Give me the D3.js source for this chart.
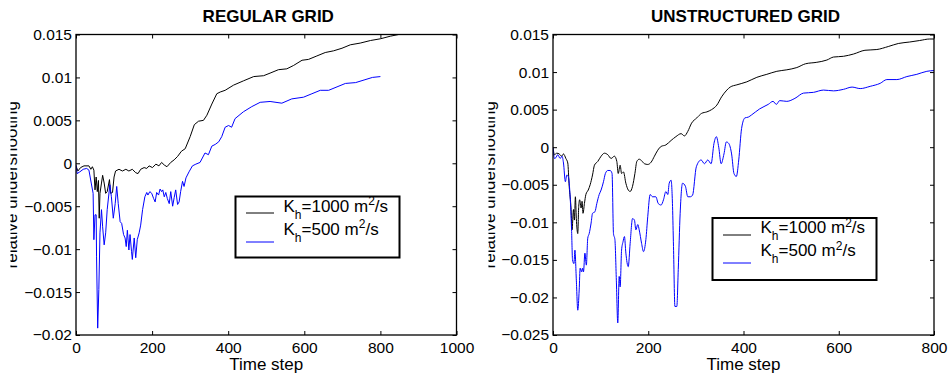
<!DOCTYPE html>
<html><head><meta charset="utf-8">
<script src="https://cdn.jsdelivr.net/npm/d3@7"></script>
<style>
html,body{margin:0;padding:0;background:#fff;}
svg{display:block;font-family:"Liberation Sans",Arial,Helvetica,sans-serif;}
</style></head>
<body><svg id="chart" width="948" height="378"></svg>
<script>
// ---------- DATA ----------
const titles = ["REGULAR GRID", "UNSTRUCTURED GRID"];
const seriesNames = ["1000", "500"];
const xLabel = "Time step";
const yLabel = "relative undershooting";

const regXTicks = [0, 200, 400, 600, 800, 1000];
const regYTicks = [-0.02, -0.015, -0.01, -0.005, 0, 0.005, 0.01, 0.015];
const unsXTicks = [0, 200, 400, 600, 800];
const unsYTicks = [-0.025, -0.02, -0.015, -0.01, -0.005, 0, 0.005, 0.01, 0.015];

// Regular grid, Kh = 1000
const regTime1000 = [0,5,12,21,34,39,43,47,50,53,56,59,61,63,67,70,74,78,82,88,91,96,100,104,113,122,131,139,148,157,163,170,179,186,192,201,210,218,225,232,239,249,258,267,277,287,300,311,322,335,344,357,370,379,392,414,440,467,493,510,532,554,572,594,611,633,655,677,699,721,747,774,800,826,848];
const regVal1000 = [-0.0003,-0.0009,-0.0005,-0.0003,-0.0003,-0.0007,-0.0004,-0.0008,-0.0031,-0.0016,-0.0033,-0.0020,-0.0064,-0.0035,-0.0023,-0.0014,-0.0023,-0.0035,-0.0033,-0.0019,-0.0035,-0.0034,-0.0016,-0.0009,-0.0007,-0.0009,-0.0007,-0.0009,-0.0007,-0.0011,-0.0012,-0.0007,-0.0005,-0.0006,-0.0003,-0.0005,-0.0001,-0.0003,0.0001,-0.0002,-0.0004,0.0001,0.0004,0.0008,0.0014,0.0017,0.0031,0.0045,0.0049,0.0050,0.0056,0.0069,0.0081,0.0083,0.0085,0.0091,0.0096,0.0101,0.0102,0.0105,0.0109,0.0110,0.0114,0.0120,0.0121,0.0125,0.0129,0.0131,0.0134,0.0138,0.0140,0.0143,0.0145,0.0148,0.0150];

// Regular grid, Kh = 500
const regTime500 = [0,3,10,19,28,34,40,45,47,50,53,54,57,60,63,67,70,74,78,82,89,93,98,103,107,111,116,120,125,129,132,135,139,142,146,148,153,157,161,166,170,175,181,186,189,194,199,204,208,212,217,221,225,228,232,236,240,245,249,254,258,262,267,271,275,280,284,289,297,306,315,326,339,348,357,366,375,383,392,401,409,418,440,462,484,510,541,567,598,620,642,664,686,708,735,757,779,800];
const regVal500 = [-0.0002,-0.0012,-0.0010,-0.0007,-0.0006,-0.0008,-0.0023,-0.0035,-0.0089,-0.0060,-0.0060,-0.0109,-0.0192,-0.0147,-0.0081,-0.0054,-0.0074,-0.0095,-0.0081,-0.0054,-0.0025,-0.0039,-0.0064,-0.0047,-0.0027,-0.0047,-0.0068,-0.0070,-0.0083,-0.0087,-0.0097,-0.0078,-0.0101,-0.0083,-0.0103,-0.0112,-0.0087,-0.0110,-0.0089,-0.0081,-0.0072,-0.0054,-0.0039,-0.0034,-0.0037,-0.0033,-0.0035,-0.0041,-0.0045,-0.0034,-0.0037,-0.0030,-0.0033,-0.0031,-0.0039,-0.0034,-0.0041,-0.0047,-0.0033,-0.0050,-0.0040,-0.0031,-0.0048,-0.0045,-0.0033,-0.0021,-0.0027,-0.0017,-0.0010,-0.0003,-0.0001,0.0001,0.0012,0.0010,0.0020,0.0022,0.0025,0.0031,0.0042,0.0044,0.0042,0.0052,0.0060,0.0066,0.0071,0.0072,0.0070,0.0075,0.0077,0.0081,0.0085,0.0085,0.0089,0.0093,0.0094,0.0097,0.0100,0.0101];

// Unstructured grid, Kh = 1000
const unsTime1000 = [0,3,8,13,18,22,27,31,34,38,40,43,45,47,49,52,54,56,59,61,63,66,69,74,78,83,87,94,101,108,115,122,129,134,137,141,144,148,153,158,162,167,172,176,181,186,192,199,206,213,220,227,237,248,258,269,276,283,291,302,312,323,333,344,354,365,372,386,407,428,449,470,491,512,530,554,575,589,610,631,655,680,704,725,749,770,791,800];
const unsVal1000 = [0.0000,-0.0010,-0.0008,-0.0009,-0.0012,-0.0009,-0.0015,-0.0021,-0.0052,-0.0083,-0.0110,-0.0083,-0.0097,-0.0066,-0.0095,-0.0115,-0.0079,-0.0070,-0.0081,-0.0072,-0.0088,-0.0075,-0.0063,-0.0057,-0.0050,-0.0037,-0.0024,-0.0019,-0.0012,-0.0008,-0.0010,-0.0015,-0.0012,-0.0019,-0.0035,-0.0024,-0.0035,-0.0033,-0.0048,-0.0057,-0.0059,-0.0052,-0.0035,-0.0019,-0.0016,-0.0018,-0.0022,-0.0023,-0.0020,-0.0012,-0.0004,0.0001,0.0003,0.0009,0.0014,0.0018,0.0015,0.0021,0.0032,0.0039,0.0045,0.0047,0.0050,0.0056,0.0067,0.0076,0.0080,0.0083,0.0087,0.0093,0.0097,0.0101,0.0103,0.0106,0.0111,0.0113,0.0116,0.0120,0.0121,0.0124,0.0129,0.0130,0.0134,0.0138,0.0140,0.0142,0.0144,0.0144];

// Unstructured grid, Kh = 500
const unsTime500 = [0,3,6,10,15,19,22,26,29,32,36,39,41,44,46,49,52,55,57,60,62,64,67,70,73,76,80,83,88,92,97,101,106,110,115,120,124,127,130,133,136,139,141,144,147,150,153,158,162,167,171,174,178,181,186,190,195,199,204,209,216,221,227,232,237,241,244,248,251,253,256,260,263,267,272,278,283,288,293,301,311,318,325,332,338,343,348,353,359,364,369,375,380,385,390,396,403,410,417,434,452,462,469,476,491,508,526,547,568,589,610,628,645,666,687,701,722,743,764,785,800];
const unsVal500 = [0.0000,-0.0015,-0.0014,-0.0010,-0.0015,-0.0012,-0.0021,-0.0046,-0.0037,-0.0039,-0.0066,-0.0110,-0.0150,-0.0155,-0.0137,-0.0177,-0.0217,-0.0190,-0.0161,-0.0166,-0.0161,-0.0166,-0.0141,-0.0157,-0.0121,-0.0115,-0.0101,-0.0088,-0.0086,-0.0075,-0.0063,-0.0057,-0.0046,-0.0035,-0.0031,-0.0031,-0.0035,-0.0115,-0.0123,-0.0177,-0.0234,-0.0172,-0.0186,-0.0137,-0.0126,-0.0119,-0.0141,-0.0159,-0.0128,-0.0095,-0.0097,-0.0110,-0.0103,-0.0110,-0.0128,-0.0139,-0.0123,-0.0092,-0.0063,-0.0066,-0.0066,-0.0075,-0.0077,-0.0070,-0.0059,-0.0063,-0.0048,-0.0044,-0.0079,-0.0132,-0.0212,-0.0212,-0.0163,-0.0088,-0.0048,-0.0052,-0.0066,-0.0066,-0.0064,-0.0026,-0.0017,-0.0022,-0.0017,-0.0022,0.0005,0.0014,0.0000,-0.0022,-0.0009,0.0007,0.0005,-0.0009,-0.0035,-0.0039,-0.0017,0.0025,0.0039,0.0040,0.0043,0.0051,0.0057,0.0061,0.0057,0.0062,0.0061,0.0065,0.0072,0.0073,0.0076,0.0075,0.0077,0.0080,0.0078,0.0081,0.0085,0.0090,0.0090,0.0094,0.0097,0.0101,0.0102];

// ---------- DRAW ----------
const svg = d3.select("#chart");
const fmt = d => (d === 0 ? "0" : d3.format("~g")(d));
const colors = ["#000000", "#0000ff"];

const panels = [
  { title: titles[0], x0: 76, x1: 456.5, xDomain: [0, 1000], yDomain: [-0.02, 0.015],
    xTicks: regXTicks, yTicks: regYTicks,
    series: [[regTime1000, regVal1000], [regTime500, regVal500]],
    curve: d3.curveLinear, ylabX: 16.5, clipX: 10.5,
    legend: { x: 235.5, y: 196.5, w: 164, h: 61 } },
  { title: titles[1], x0: 553, x1: 934, xDomain: [0, 800], yDomain: [-0.025, 0.015],
    xTicks: unsXTicks, yTicks: unsYTicks,
    series: [[unsTime1000, unsVal1000], [unsTime500, unsVal500]],
    curve: d3.curveMonotoneX, ylabX: 495, clipX: 488.5,
    legend: { x: 712.5, y: 218, w: 164, h: 62 } }
];
const yTop = 34.5, yBot = 335;

panels.forEach((p, pi) => {
  const x = d3.scaleLinear().domain(p.xDomain).range([p.x0, p.x1]);
  const y = d3.scaleLinear().domain(p.yDomain).range([yBot, yTop]);
  const g = svg.append("g");

  const cid = "clip" + pi;
  svg.append("clipPath").attr("id", cid).append("rect")
    .attr("x", p.x0).attr("y", yTop).attr("width", p.x1 - p.x0).attr("height", yBot - yTop);

  const line = d3.line().x(d => x(d[0])).y(d => y(d[1])).curve(p.curve);
  p.series.forEach((s, si) => {
    const pts = s[0].map((t, i) => [t, s[1][i]]);
    g.append("path").datum(pts).attr("d", line)
      .attr("fill", "none").attr("stroke", colors[si]).attr("stroke-width", 1)
      .attr("clip-path", `url(#${cid})`);
  });

  const tl = 4;
  const ax = [
    d3.axisBottom(x).tickValues(p.xTicks).tickFormat(fmt).tickSizeInner(-tl).tickSizeOuter(0).tickPadding(7),
    d3.axisTop(x).tickValues(p.xTicks).tickFormat("").tickSizeInner(-tl).tickSizeOuter(0),
    d3.axisLeft(y).tickValues(p.yTicks).tickFormat(fmt).tickSizeInner(-tl).tickSizeOuter(0).tickPadding(4),
    d3.axisRight(y).tickValues(p.yTicks).tickFormat("").tickSizeInner(-tl).tickSizeOuter(0)
  ];
  const tr = [`translate(0,${yBot})`, `translate(0,${yTop})`, `translate(${p.x0},0)`, `translate(${p.x1},0)`];
  ax.forEach((a, i) => {
    const ag = g.append("g").attr("transform", tr[i]).call(a);
    ag.select(".domain").remove();
    ag.selectAll("line").attr("stroke", "#000").attr("stroke-width", 1);
    ag.selectAll("text").attr("font-size", 15.5).attr("fill", "#000")
      .attr("font-family", '"Liberation Sans",Arial,sans-serif');
  });

  g.append("rect").attr("x", p.x0).attr("y", yTop).attr("width", p.x1 - p.x0).attr("height", yBot - yTop)
    .attr("fill", "none").attr("stroke", "#000").attr("stroke-width", 1.3);

  g.append("text").attr("x", (p.x0 + p.x1) / 2 + 2).attr("y", 21.5).attr("text-anchor", "middle")
    .attr("font-size", 17).attr("font-weight", "bold").text(p.title);

  g.append("text").attr("x", (p.x0 + p.x1) / 2).attr("y", 369.5).attr("text-anchor", "middle")
    .attr("font-size", 17).text(xLabel);

  const ycid = "yclip" + pi;
  svg.append("clipPath").attr("id", ycid).append("rect")
    .attr("x", p.clipX).attr("y", 0).attr("width", 40).attr("height", 378);
  g.append("g").attr("clip-path", `url(#${ycid})`)
    .append("text").attr("transform", `translate(${p.ylabX},${(yTop + yBot) / 2}) rotate(-90)`)
    .attr("text-anchor", "middle").attr("font-size", 17).text(yLabel);

  const L = p.legend;
  const lg = g.append("g");
  lg.append("rect").attr("x", L.x).attr("y", L.y).attr("width", L.w).attr("height", L.h)
    .attr("fill", "#fff").attr("stroke", "#000").attr("stroke-width", 2);
  const lineYs = [16.5, 45], textYs = [15, 38];
  seriesNames.forEach((nm, i) => {
    const ly = Math.round(L.y + lineYs[i]);
    lg.append("line").attr("x1", L.x + 10.5).attr("x2", L.x + 38.5)
      .attr("y1", ly).attr("y2", ly)
      .attr("stroke", colors[i]).attr("stroke-width", 1);
    const t = lg.append("text").attr("x", L.x + 48).attr("y", L.y + textYs[i]).attr("font-size", 17);
    t.append("tspan").text("K");
    t.append("tspan").attr("dy", 7).attr("font-size", 12).text("h");
    t.append("tspan").attr("dy", -7).text("=" + nm + " m");
    t.append("tspan").attr("dy", -6.5).attr("font-size", 12).text("2");
    t.append("tspan").attr("dy", 6.5).text("/s");
  });
});
</script>
</body></html>
